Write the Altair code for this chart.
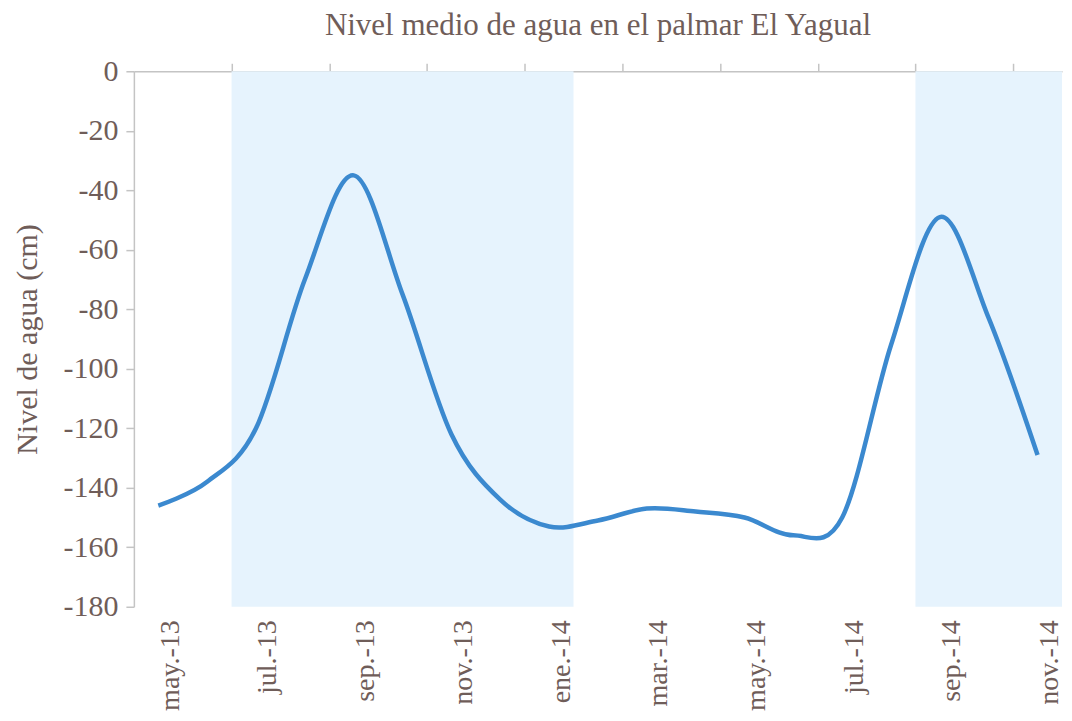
import altair as alt
import pandas as pd

# Monthly mean water level (cm)
months = ["may.-13", "jun.-13", "jul.-13", "ago.-13", "sep.-13", "oct.-13", "nov.-13",
          "dic.-13", "ene.-14", "feb.-14", "mar.-14", "abr.-14", "may.-14", "jun.-14",
          "jul.-14", "ago.-14", "sep.-14", "oct.-14", "nov.-14"]
nivel = [-146, -138, -120, -70, -35, -75, -122, -144, -153, -151, -147, -148, -150,
         -156, -150, -92, -49, -83, -129]
tick_labels = ["may.-13", "jul.-13", "sep.-13", "nov.-13", "ene.-14",
               "mar.-14", "may.-14", "jul.-14", "sep.-14", "nov.-14"]
# shaded (flooded) periods, first and last month
shade_from = ["jul.-13", "sep.-14"]
shade_to = ["ene.-14", "nov.-14"]
y_min, y_max = -180, 0

TEXT = "#6f5d59"
FONT = "'Liberation Serif', 'Times New Roman', Times, serif"
LINE = "#3b89cf"
SHADE = "#e6f3fd"
AXIS = "#c4c4c4"

idx = {m: i for i, m in enumerate(months)}
df = pd.DataFrame({"i": list(range(len(months))), "mes": months, "nivel": nivel})
shade_df = pd.DataFrame({
    "x0": [idx[a] - 0.5 for a in shade_from],
    "x1": [idx[b] + 0.5 for b in shade_to],
    "y0": [y_min] * len(shade_from),
    "y1": [y_max] * len(shade_from),
})

xscale = alt.Scale(domain=[-0.5, len(months) - 0.5], nice=False, zero=False)
yscale = alt.Scale(domain=[y_min, y_max], nice=False)
label_expr = "[" + ",".join("'%s'" % m for m in months) + "][datum.value]"
label_vals = [idx[m] for m in tick_labels]
top_ticks = [v - 0.5 for v in label_vals[1:]]

shade = alt.Chart(shade_df).mark_rect(color=SHADE).encode(
    x=alt.X("x0:Q", scale=xscale, axis=alt.Axis(
        orient="top", values=top_ticks, labels=False, ticks=True, tickSize=8,
        tickColor=AXIS, domainColor=AXIS, domainWidth=1.5, tickWidth=1.5,
        grid=False, title=None)),
    x2="x1:Q",
    y=alt.Y("y0:Q", scale=yscale, axis=alt.Axis(
        values=list(range(y_min, y_max + 1, 20)), title="Nivel de agua (cm)",
        labelExpr="datum.value + ''", labelFontSize=30, titleFontSize=30,
        grid=False, tickSize=8, tickColor=AXIS, domainColor=AXIS, domainWidth=1.5,
        tickWidth=1.5, labelPadding=8, titlePadding=20)),
    y2="y1:Q",
)

line = alt.Chart(df).mark_line(color=LINE, strokeWidth=4.5, interpolate="cardinal",
                               tension=0).encode(
    x=alt.X("i:Q", scale=xscale, axis=alt.Axis(
        orient="bottom", values=label_vals, labelExpr=label_expr, labelAngle=270,
        labelAlign="right", labelBaseline="middle", labelOffset=12, labelPadding=13,
        labelFontSize=28, domain=False, ticks=False, grid=False, title=None)),
    y=alt.Y("nivel:Q", scale=yscale),
)

chart = alt.layer(shade, line).resolve_axis(x="independent").properties(
    width=929, height=536,
    title=alt.TitleParams("Nivel medio de agua en el palmar El Yagual", fontSize=31,
                          font=FONT, fontWeight="normal", color=TEXT, offset=14),
    padding={"left": 5, "top": 2, "right": 0, "bottom": 0},
).configure_view(stroke=None).configure_axis(
    labelFont=FONT, labelColor=TEXT,
    titleFont=FONT, titleColor=TEXT, titleFontWeight="normal",
)

chart.save("out.html", embed_options={"renderer": "svg", "actions": False})
